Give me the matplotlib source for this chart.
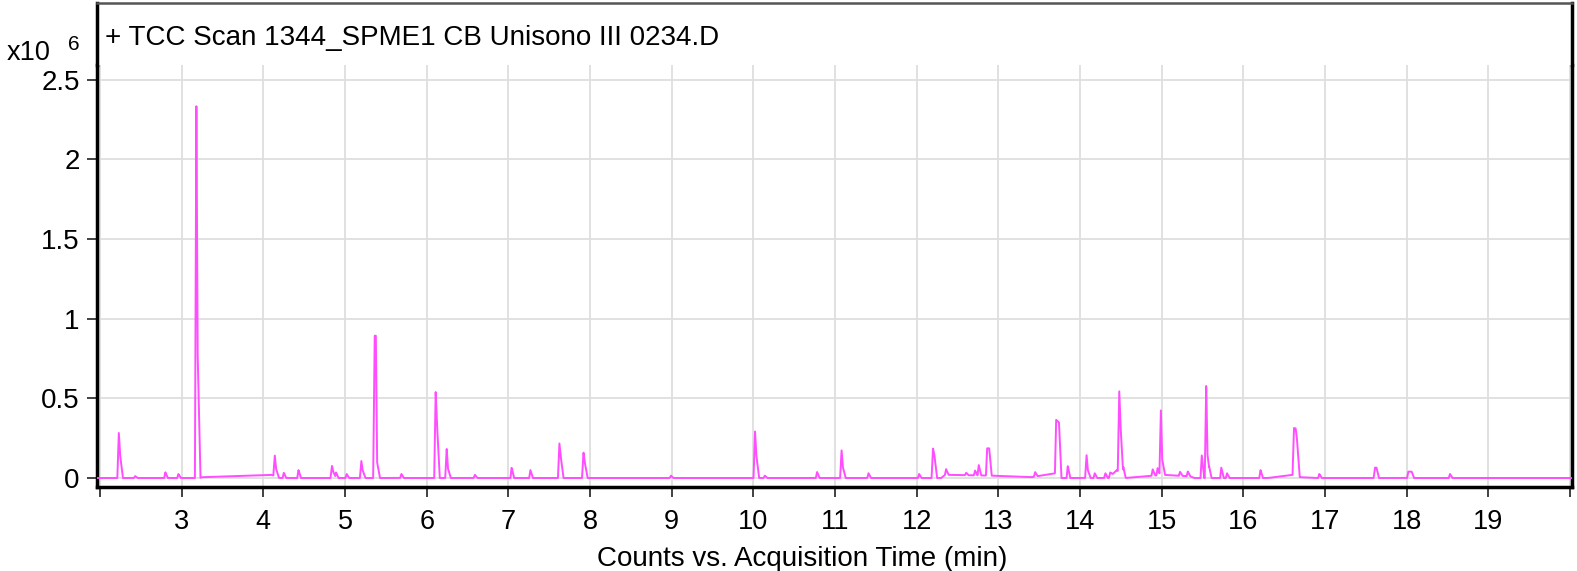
import numpy as np
import matplotlib
matplotlib.use("Agg")
import matplotlib.pyplot as plt

plt.rcParams['font.family'] = ['Liberation Sans', 'DejaVu Sans']

# peaks: retention time (min), apex height and
# trailing shoulder height (x10^6 counts), flat-top duration (min)
peak_rt = [2.23, 2.43, 2.80, 2.96, 3.18, 4.14, 4.25, 4.43, 4.84, 4.89,
           5.02, 5.20, 5.37, 5.69, 6.11, 6.245, 6.59, 7.04, 7.27, 7.625,
           7.92, 8.99, 10.02, 10.14, 10.78, 11.08, 11.41, 12.03, 12.20, 12.36,
           12.605, 12.715, 12.76, 12.875, 13.45, 13.725, 13.85, 14.08, 14.18, 14.31,
           14.37, 14.48, 14.53, 14.89, 14.95, 14.99, 15.225, 15.32, 15.49, 15.545,
           15.58, 15.73, 15.80, 16.21, 16.63, 16.93, 17.62, 18.04, 18.53]
peak_height = [0.284, 0.012, 0.036, 0.025, 2.362, 0.13, 0.033, 0.05, 0.077, 0.035,
               0.025, 0.107, 0.893, 0.025, 0.54, 0.186, 0.02, 0.065, 0.05, 0.218,
               0.161, 0.015, 0.297, 0.015, 0.038, 0.176, 0.03, 0.025, 0.186, 0.036,
               0.015, 0.03, 0.065, 0.171, 0.028, 0.339, 0.075, 0.144, 0.03, 0.03,
               0.025, 0.515, 0.06, 0.04, 0.045, 0.406, 0.025, 0.03, 0.144, 0.584,
               0.075, 0.065, 0.03, 0.05, 0.297, 0.025, 0.065, 0.04, 0.025]
peak_shoulder = [0.15, 0, 0, 0, 0.79, 0.05, 0, 0, 0.04, 0,
                 0, 0.05, 0.1, 0, 0.35, 0.06, 0, 0, 0, 0.14,
                 0.1, 0, 0.15, 0, 0, 0.07, 0, 0, 0.15, 0,
                 0, 0, 0, 0, 0, 0, 0, 0.05, 0, 0,
                 0, 0.31, 0, 0, 0, 0.1, 0, 0, 0, 0.15,
                 0, 0, 0, 0, 0.24, 0, 0, 0, 0]
peak_flat = [0, 0, 0, 0, 0, 0, 0, 0, 0, 0,
             0, 0, 0.015, 0, 0, 0, 0, 0, 0, 0,
             0, 0, 0, 0, 0, 0, 0, 0, 0, 0,
             0, 0, 0, 0.025, 0, 0.035, 0, 0, 0, 0,
             0, 0, 0, 0, 0, 0, 0, 0, 0, 0,
             0, 0, 0, 0, 0.02, 0, 0.02, 0.04, 0]

# drifting baseline (x10^6 counts)
base_rt = [1.96, 3.22, 3.25, 4.10, 4.20, 12.30, 12.35, 12.90, 13.40, 13.70,
           13.76, 14.35, 14.45, 14.55, 15.02, 15.35, 15.40, 16.30, 16.60, 16.70,
           16.90, 20.03]
base_level = [0, 0, 0.005, 0.02, 0, 0, 0.02, 0.015, 0.005, 0.03,
              0, 0, 0.05, 0, 0.02, 0.01, 0, 0, 0.02, 0.005,
              0, 0]

x_ticks = list(range(2, 21))
x_labels = [''] + [str(v) for v in range(3, 20)] + ['']
y_ticks = [0, 0.5, 1, 1.5, 2, 2.5]
y_labels = ['0', '0.5', '1', '1.5', '2', '2.5']

title = '+ TCC Scan 1344_SPME1 CB Unisono III 0234.D'
xlabel = 'Counts vs. Acquisition Time (min)'

# build the trace
t = np.linspace(1.96, 20.03, 20000)
signal = np.zeros_like(t)
for rt, h, s, f in zip(peak_rt, peak_height, peak_shoulder, peak_flat):
    if s > 0:
        xs = [rt - 0.018 - f / 2, rt - f / 2, rt + f / 2, rt + f / 2 + 0.015, rt + f / 2 + 0.05]
        ys = [0, h, h, s, 0]
    else:
        xs = [rt - 0.015 - f / 2, rt - f / 2, rt + f / 2, rt + f / 2 + 0.03]
        ys = [0, h, h, 0]
    signal = np.maximum(signal, np.interp(t, xs, ys, left=0, right=0))
signal = signal + np.interp(t, base_rt, base_level)

W, H = 1577, 571
fig = plt.figure(figsize=(W / 100, H / 100), dpi=100)
ax = fig.add_axes([97 / W, (H - 487) / H, (1572 - 97) / W, (487 - 65) / H])
band = fig.add_axes([97 / W, (H - 65) / H, (1572 - 97) / W, (65 - 3) / H])

ax.plot(t, signal, color='#ff4dff', lw=1.4, zorder=3)
ax.set_xlim(1.963, 20.024)
ax.set_ylim(-0.0565, 2.593)

ax.set_xticks(x_ticks)
ax.set_xticklabels(x_labels, fontsize=19.5)
ax.set_yticks(y_ticks)
ax.set_yticklabels(y_labels, fontsize=20)
ax.grid(True, color='#dedede', lw=1.3, zorder=0)
ax.tick_params(axis='both', direction='out', length=7.5, width=1.3, color='#333333')
ax.tick_params(axis='x', pad=8)
ax.tick_params(axis='y', pad=5)
ax.set_xlabel(xlabel, fontsize=20)
ax.xaxis.set_label_coords((802 - 97) / 1475, -(566 - 487) / 422, transform=ax.transAxes)
ax.xaxis.label.set_va('baseline')

for side in ['left', 'right', 'bottom']:
    ax.spines[side].set_linewidth(2.5)
    ax.spines[side].set_color('black')
ax.spines['top'].set_visible(False)

band.set_xticks([])
band.set_yticks([])
band.spines['bottom'].set_visible(False)
band.spines['left'].set_linewidth(2.5)
band.spines['right'].set_linewidth(2.5)
band.spines['top'].set_linewidth(1.8)
band.spines['top'].set_color('#555555')
band.text(8 / 1475, 20 / 62, title, fontsize=20, va='baseline', ha='left',
          transform=band.transAxes)

fig.text(7 / W, (H - 60) / H, 'x10', fontsize=19.5, va='baseline', ha='left')
fig.text(68 / W, (H - 50) / H, '6', fontsize=15, va='baseline', ha='left')

fig.savefig('out.png', dpi=100)
